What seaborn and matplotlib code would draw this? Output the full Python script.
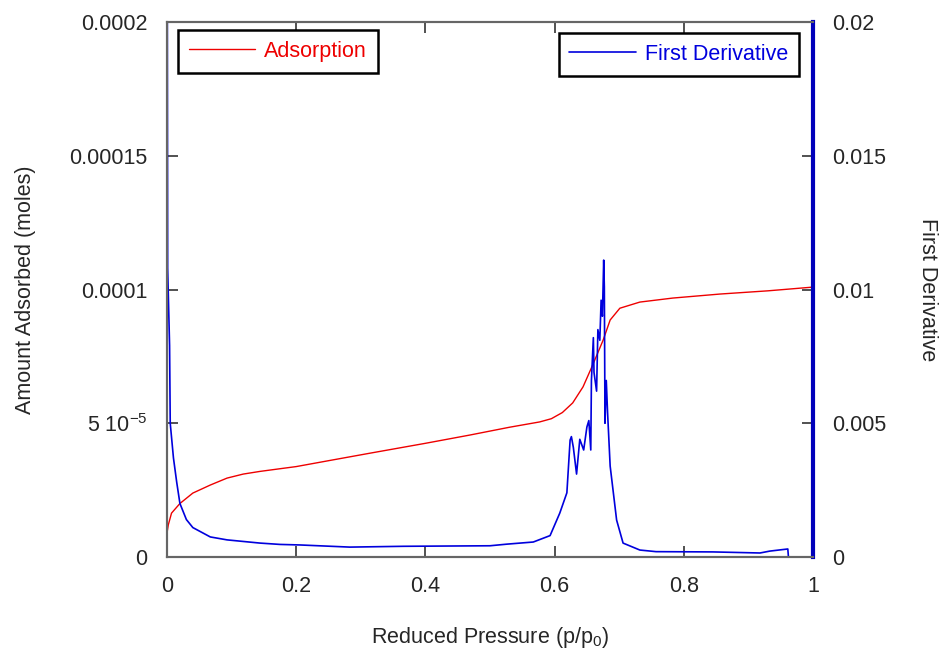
import matplotlib
matplotlib.use("Agg")
import matplotlib.pyplot as plt
import seaborn as sns
import pandas as pd
from matplotlib.ticker import FixedLocator, FixedFormatter

# ---- data ----
ads_x = [0.0, 0.002, 0.007, 0.02, 0.04, 0.067, 0.093, 0.118, 0.144, 0.175, 0.2, 0.25,
         0.314, 0.4, 0.469, 0.53, 0.577, 0.595, 0.612, 0.628, 0.644, 0.659, 0.675, 0.686,
         0.701, 0.732, 0.783, 0.856, 0.93, 1.0]
ads_y = [0.9e-5, 1.2e-5, 1.64e-5, 2.0e-5, 2.39e-5, 2.69e-5, 2.95e-5, 3.1e-5, 3.2e-5,
         3.3e-5, 3.38e-5, 3.6e-5, 3.88e-5, 4.25e-5, 4.56e-5, 4.85e-5, 5.05e-5, 5.17e-5,
         5.4e-5, 5.76e-5, 6.36e-5, 7.18e-5, 8.1e-5, 8.86e-5, 9.3e-5, 9.53e-5, 9.68e-5,
         9.83e-5, 9.95e-5, 10.09e-5]

der_x = [0.0, 0.001, 0.004, 0.005, 0.01, 0.015, 0.02, 0.03, 0.04, 0.067, 0.093, 0.144,
         0.175, 0.206, 0.283, 0.366, 0.5, 0.526, 0.567, 0.593, 0.608, 0.619, 0.624,
         0.626, 0.629, 0.634, 0.639, 0.645, 0.65, 0.653, 0.656, 0.657, 0.66, 0.661,
         0.665, 0.667, 0.670, 0.672, 0.674, 0.676, 0.677, 0.678, 0.680, 0.682, 0.686,
         0.696, 0.706, 0.732, 0.757, 0.845, 0.918, 0.933, 0.961, 0.962]
der_y = [0.03, 0.0108, 0.0079, 0.0050, 0.0037, 0.0028, 0.0020, 0.0014, 0.0011, 0.00075,
         0.00064, 0.00052, 0.00047, 0.00045, 0.00037, 0.0004, 0.00042, 0.00048, 0.00056,
         0.0008, 0.00164, 0.0024, 0.00437, 0.0045, 0.0041, 0.0031, 0.0044, 0.0040,
         0.00486, 0.0051, 0.0040, 0.0066, 0.0082, 0.0069, 0.0062, 0.0085, 0.0081,
         0.0096, 0.0090, 0.0111, 0.0101, 0.0050, 0.0066, 0.0054, 0.0034, 0.00138,
         0.00052, 0.00026, 0.0002, 0.00019, 0.00015, 0.00022, 0.0003, 0.0]

x_ticks = [0, 0.2, 0.4, 0.6, 0.8, 1]
x_ticklabels = ["0", "0.2", "0.4", "0.6", "0.8", "1"]
yl_ticks = [0, 5e-5, 1e-4, 1.5e-4, 2e-4]
yl_ticklabels = ["0", "5 10$^{-5}$", "0.0001", "0.00015", "0.0002"]
yr_ticks = [0, 0.005, 0.01, 0.015, 0.02]
yr_ticklabels = ["0", "0.005", "0.01", "0.015", "0.02"]

df_ads = pd.DataFrame({"p": ads_x, "v": ads_y})
df_der = pd.DataFrame({"p": der_x, "v": der_y})

sns.set_style("ticks")
plt.rcParams["font.family"] = ["Liberation Sans", "DejaVu Sans"]
plt.rcParams["mathtext.fontset"] = "custom"
plt.rcParams["mathtext.rm"] = "Liberation Sans"
plt.rcParams["mathtext.it"] = "Liberation Sans"

fig = plt.figure(figsize=(9.46, 6.55), dpi=100)
ax = fig.add_axes([167/946, 1-557/655, (813-167)/946, (557-22)/655])
ax2 = ax.twinx()

sns.lineplot(data=df_ads, x="p", y="v", ax=ax, color="#ee0000", lw=1.0,
             sort=False, estimator=None, label="Adsorption")
sns.lineplot(data=df_der, x="p", y="v", ax=ax2, color="#0000dd", lw=1.2,
             sort=False, estimator=None, label="First Derivative")

ax.set_xlim(0, 1)
ax.set_ylim(0, 2e-4)
ax2.set_ylim(0, 0.02)

fs = 15.5
ax.xaxis.set_major_locator(FixedLocator(x_ticks))
ax.xaxis.set_major_formatter(FixedFormatter(x_ticklabels))
ax.yaxis.set_major_locator(FixedLocator(yl_ticks))
ax.yaxis.set_major_formatter(FixedFormatter(yl_ticklabels))
ax2.yaxis.set_major_locator(FixedLocator(yr_ticks))
ax2.yaxis.set_major_formatter(FixedFormatter(yr_ticklabels))

ax.tick_params(axis="x", direction="in", length=8, width=1.2, top=True, bottom=True,
               labelsize=fs, pad=14, color="#333333")
ax.tick_params(axis="y", direction="in", length=8, width=1.2, left=True, right=False,
               labelsize=fs, pad=14, color="#333333")
ax2.tick_params(axis="y", direction="in", length=8, width=1.2, right=True,
                labelsize=fs, pad=14, color="#333333")

ax.set_xlabel("Reduced Pressure (p/p$_0$)", fontsize=fs, labelpad=20)
ax.set_ylabel("Amount Adsorbed (moles)", fontsize=fs, labelpad=24)
ax2.set_ylabel("First Derivative", fontsize=fs, rotation=270, labelpad=37)

for a in (ax, ax2):
    for s in ("left", "top", "bottom"):
        a.spines[s].set_color("#666666")
        a.spines[s].set_linewidth(1.5)
ax2.spines["right"].set_color("#0000bb")
ax2.spines["right"].set_linewidth(3)
ax.spines["right"].set_visible(False)

lfs = 15.5
leg1 = ax.legend(loc="upper left", bbox_to_anchor=(0.017, 0.985), fontsize=lfs,
                 frameon=True, fancybox=False, edgecolor="black", framealpha=1,
                 handlelength=3.1, handletextpad=0.4, borderpad=0.5, borderaxespad=0)
leg1.get_frame().set_linewidth(1.8)
for t in leg1.get_texts():
    t.set_color("#ee0000")
leg2 = ax2.legend(loc="upper right", bbox_to_anchor=(0.978, 0.979), fontsize=lfs,
                  frameon=True, fancybox=False, edgecolor="black", framealpha=1,
                  handlelength=3.1, handletextpad=0.4, borderpad=0.5, borderaxespad=0)
leg2.get_frame().set_linewidth(1.8)
for t in leg2.get_texts():
    t.set_color("#0000dd")

fig.savefig("out.png", dpi=100)
